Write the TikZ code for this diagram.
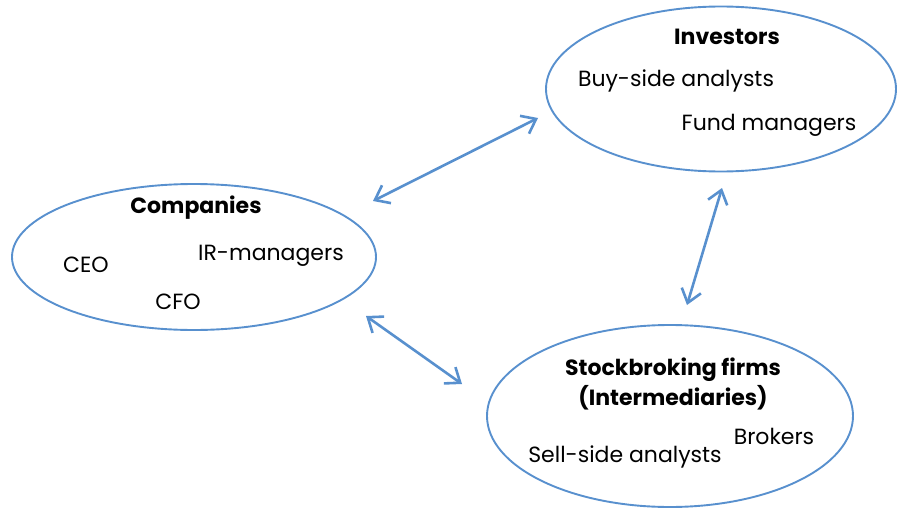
\documentclass[tikz,border=0pt]{standalone}
\usepackage{fontspec}
\setmainfont{Poppins}
\usetikzlibrary{shapes.geometric,arrows.meta}
\definecolor{rimblue}{RGB}{88,144,206}

\begin{document}
\begin{tikzpicture}[x=1pt, y=-1pt,
	group/.style={ellipse, draw=rimblue, line width=1.9pt, inner sep=0pt},
	item/.style={font=\fontsize{22}{26}\selectfont, inner sep=0pt},
	head/.style={font=\fontsize{22}{30}\selectfont\bfseries, inner sep=0pt, align=center},
	link/.style={rimblue, line width=2.6pt,
		{Straight Barb[length=13pt, width=20pt]}-{Straight Barb[length=13pt, width=20pt]}}]
	\useasboundingbox (0,0) rectangle (899,508);
	% the three groups
	\node[group, minimum width=350, minimum height=165] (inv) at (721,89) {};
	\node[group, minimum width=364, minimum height=146] (comp) at (194,257) {};
	\node[group, minimum width=366, minimum height=182] (firm) at (670,416) {};
	% investors
	\node[head] (invhead) at (727,37) {Investors};
	\node[item] (buyside) at (676,81) {Buy-side analysts};
	\node[item] (fund) at (769,125) {Fund managers};
	% companies
	\node[head] (comphead) at (196,208) {Companies};
	\node[item] (ceo) at (86,265) {CEO};
	\node[item] (irman) at (271,256) {IR-managers};
	\node[item] (cfo) at (178,302) {CFO};
	% stockbroking firms
	\node[head] (firmhead) at (673,384) {Stockbroking firms\\(Intermediaries)};
	\node[item] (brokers) at (774,436) {Brokers};
	\node[item] (sellside) at (625,457) {Sell-side analysts};
	% arrow ends
	\coordinate (c1) at (373,201);
	\coordinate (i1) at (538,118);
	\coordinate (c2) at (366,316);
	\coordinate (f2) at (462,384);
	\coordinate (i3) at (722,188);
	\coordinate (f3) at (687,305);
	\draw[link] (c1) -- (i1);
	\draw[link] (c2) -- (f2);
	\draw[link] (i3) -- (f3);
\end{tikzpicture}
\end{document}
